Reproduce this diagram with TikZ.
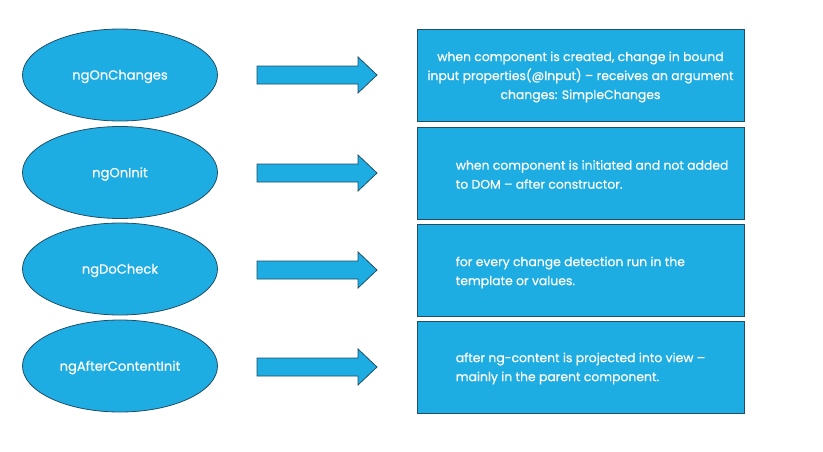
\documentclass[tikz,border=0pt]{standalone}
\usepackage{fontspec}
\setmainfont{Poppins}[FakeBold=0.5]
\usetikzlibrary{shapes.geometric}
\definecolor{fillblue}{HTML}{1EADE3}
\definecolor{edgeblue}{HTML}{1F4E66}
\tikzset{
  hook/.style={ellipse, draw=edgeblue, fill=fillblue, line width=0.8pt,
    minimum width=195pt, minimum height=92pt, inner sep=0pt},
  hooktext/.style={inner sep=0pt, text=white, font=\fontsize{13.1}{15}\selectfont},
  descbox/.style={rectangle, draw=edgeblue, fill=fillblue, line width=0.8pt,
    minimum width=327pt, minimum height=92pt, inner sep=0pt},
  desctext/.style={anchor=west, inner sep=0pt, align=left,
    text=white, font=\fontsize{12.4}{19}\selectfont},
  blockarrow/.style={draw=edgeblue, fill=fillblue, line width=0.8pt, line join=miter}
}
\begin{document}
\begin{tikzpicture}[x=1pt,y=-1pt]
\useasboundingbox (0,0) rectangle (823,451);
% ellipses
\node[hook] (e1) at (120,75) {};
\node[hook] (e2) at (120,172.5) {};
\node[hook] (e3) at (120,269) {};
\node[hook] (e4) at (120,366) {};
\node[hooktext] (e1t) at ([yshift=-1.5pt]e1.center) {ngOnChanges};
\node[hooktext] (e2t) at ([yshift=-1.5pt]e2.center) {ngOnInit};
\node[hooktext] (e3t) at ([yshift=-1.5pt]e3.center) {ngDoCheck};
\node[hooktext] (e4t) at ([yshift=-1.5pt]e4.center) {ngAfterContentInit};
% boxes
\node[descbox] (b1) at (580.5,75) {};
\node[descbox] (b2) at (580.5,173) {};
\node[descbox] (b3) at (580.5,270.5) {};
\node[descbox] (b4) at (580.5,367) {};
\node[desctext, anchor=center, align=center] (t1) at ([yshift=-2pt]b1.center) {when component is created, change in bound\\input properties(@Input) -- receives an argument\\changes: SimpleChanges};
\node[desctext] (t2) at ([xshift=39pt,yshift=-1.5pt]b2.west) {when component is initiated and not added\\to DOM -- after constructor.};
\node[desctext] (t3) at ([xshift=39pt,yshift=-2pt]b3.west) {for every change detection run in the\\template or values.};
\node[desctext] (t4) at ([xshift=39pt,yshift=-1.5pt]b4.west) {after ng-content is projected into view --\\mainly in the parent component.};
% block arrows
\foreach \n/\y in {1/75,2/173,3/270,4/367}{
  \coordinate (a\n) at (257,\y);
  \draw[blockarrow] (a\n) ++(0,-9) -- ++(101,0) -- ++(0,-9) -- ++(19,18) -- ++(-19,18) -- ++(0,-9) -- ++(-101,0) -- cycle;
}
\end{tikzpicture}
\end{document}
